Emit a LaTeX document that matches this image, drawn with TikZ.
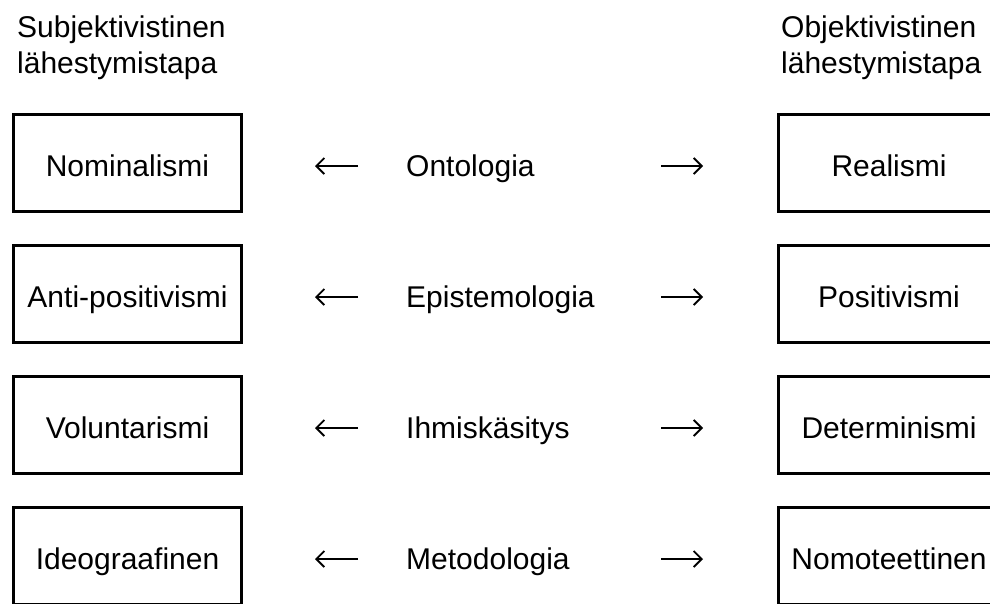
\documentclass[tikz,border=0pt]{standalone}
\usepackage{fontspec}
\setmainfont{Liberation Sans}
\usetikzlibrary{arrows.meta}
\begin{document}
\begin{tikzpicture}[x=1pt,y=-1pt,
  every node/.style={font=\fontsize{30}{36}\selectfont, inner sep=0pt},
  termbox/.style={draw, line width=3.2pt, minimum height=97pt, text height=26pt, text depth=0pt},
  leftbox/.style={termbox, minimum width=228pt},
  rightbox/.style={termbox, minimum width=221pt},
  midlabel/.style={anchor=base west},
  header/.style={anchor=base west, align=left},
  pointer/.style={line width=1.8pt, -{Straight Barb[length=8pt,width=16pt,line width=1.8pt]}}
]
\useasboundingbox (0,0) rectangle (990,603);
\fill[white] (0,0) rectangle (990,603);
\clip (0,0) rectangle (990,603);

% column headings (base anchor sits on the second line)
\node[header] (subj) at (17,73) {Subjektivistinen\\lähestymistapa};
\node[header] (obj) at (781,73) {Objektivistinen\\lähestymistapa};

% rows: left concept, dimension, right concept
\foreach \i/\l/\m/\r in {0/Nominalismi/Ontologia/Realismi,
                         1/Anti-positivismi/Epistemologia/Positivismi,
                         2/Voluntarismi/Ihmiskäsitys/Determinismi,
                         3/Ideograafinen/Metodologia/Nomoteettinen}{
  \pgfmathsetmacro{\cy}{163+131*\i}
  \node[leftbox] (L\i) at (127.5,\cy) {\l};
  \node[rightbox] (R\i) at (889,\cy) {\r};
  \node[midlabel] (M\i) at (406,\cy+13) {\m};
  \coordinate (la\i) at (358,\cy+3);
  \coordinate (lb\i) at (315,\cy+3);
  \coordinate (ra\i) at (661,\cy+3);
  \coordinate (rb\i) at (703,\cy+3);
  \draw[pointer] (la\i) -- (lb\i);
  \draw[pointer] (ra\i) -- (rb\i);
}
\end{tikzpicture}
\end{document}
